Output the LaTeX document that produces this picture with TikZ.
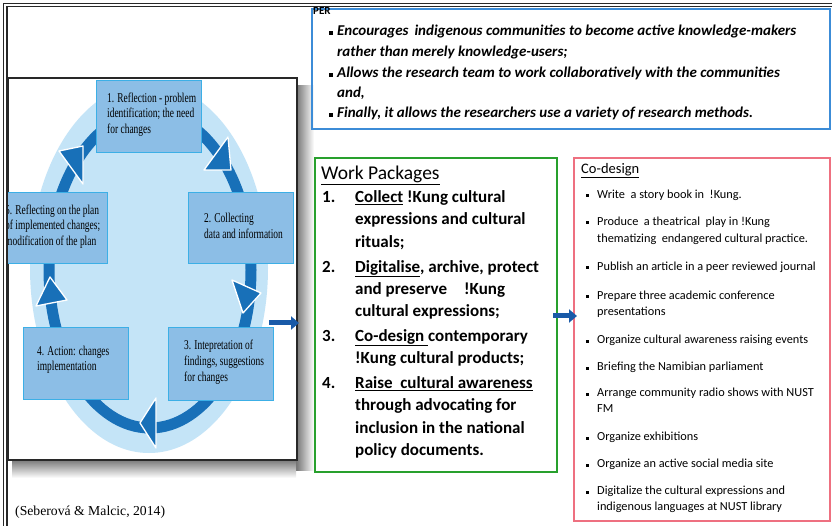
\documentclass[tikz,border=0pt]{standalone}
\usepackage{fontspec}
\setmainfont{Carlito}
\newfontfamily\cycfont[FakeStretch=0.7]{Liberation Serif}
\newfontfamily\reffont{Liberation Serif}
\usetikzlibrary{arrows.meta}
\definecolor{framec}{RGB}{40,40,40}
\definecolor{ellc}{RGB}{196,228,247}
\definecolor{ringc}{RGB}{24,112,184}
\definecolor{boxfill}{RGB}{140,190,230}
\definecolor{boxline}{RGB}{60,175,230}
\definecolor{topblue}{RGB}{60,140,215}
\definecolor{wpgreen}{RGB}{40,160,45}
\definecolor{cdred}{RGB}{238,112,128}
\definecolor{arrc}{RGB}{25,90,168}
\tikzset{
  cyctext/.style={anchor=mid west, inner sep=0pt, font=\cycfont\fontsize{13.5}{15}\selectfont},
  toptext/.style={anchor=mid west, inner sep=0pt, font=\bfseries\itshape\fontsize{15}{18}\selectfont},
  wptext/.style={anchor=mid west, inner sep=0pt, font=\bfseries\fontsize{17}{20}\selectfont},
  cdtext/.style={anchor=mid west, inner sep=0pt, font=\fontsize{12.3}{14}\selectfont},
  bul/.style={fill=black, inner sep=0pt, minimum size=3.2pt},
  cbox/.style={fill=boxfill, draw=boxline, line width=1.2pt},
  tri/.style={fill=ringc, draw=white, line width=1.3pt, line join=round},
  blockarrow/.style={draw=arrc, line width=5pt, -{Triangle[length=8pt,width=13pt]}}
}
\begin{document}
\begin{tikzpicture}[x=1pt,y=-1pt]
\useasboundingbox (0,0) rectangle (832,526);
\fill[white] (0,0) rectangle (832,526);

% shadow of the cycle picture
\shade[left color=black!55, right color=white] (296,86) rectangle (314,470);
\shade[top color=black!55, bottom color=white] (12,459) rectangle (296,478);

% cycle picture
\node[draw=framec, fill=white, line width=1.5pt, inner sep=0pt, minimum width=289pt, minimum height=381pt, anchor=north west] (pic) at (7,78) {};
\begin{scope}
\clip (7,78) rectangle (296,459);
\fill[ellc] (149,268) ellipse [x radius=119, y radius=185];
\draw[ringc, line width=11pt] (150,270) ellipse [x radius=101, y radius=158];
\draw[tri] (228,137) -- (204,170) -- (231,170) -- cycle;
\draw[tri] (232,280) -- (261,293) -- (243,313) -- cycle;
\draw[tri] (156,398) -- (140,423) -- (156,448) -- cycle;
\draw[tri] (50,277) -- (36,306) -- (67,300) -- cycle;
\draw[tri] (59,151) -- (83,146) -- (83,184) -- cycle;
\node[cbox, minimum width=105pt, minimum height=72pt, anchor=north west] (c1) at (96,80) {};
\node[cbox, minimum width=105pt, minimum height=71pt, anchor=north west] (c2) at (188,192) {};
\node[cbox, minimum width=105pt, minimum height=73pt, anchor=north west] (c3) at (168,327) {};
\node[cbox, minimum width=105pt, minimum height=72pt, anchor=north west] (c4) at (23,327) {};
\node[cbox, minimum width=101pt, minimum height=71pt, anchor=north west] (c5) at (6,192) {};
\node[cyctext] (c1a) at (107,100) {1. Reflection - problem};
\node[cyctext] (c1b) at (107,115) {identification; the need};
\node[cyctext] (c1c) at (107,131) {for changes};
\node[cyctext] (c2a) at (204,220) {2. Collecting};
\node[cyctext] (c2b) at (204,236) {data and information};
\node[cyctext] (c3a) at (184,347) {3. Intepretation of};
\node[cyctext] (c3b) at (184,363) {findings, suggestions};
\node[cyctext] (c3c) at (184,379) {for changes};
\node[cyctext] (c4a) at (37,353) {4. Action: changes};
\node[cyctext] (c4b) at (37,368) {implementation};
\node[cyctext] (c5a) at (5,212) {5. Reflecting on the plan};
\node[cyctext] (c5b) at (5,227) {of implemented changes;};
\node[cyctext] (c5c) at (5,243) {modification of the plan};
\end{scope}
\draw[framec, line width=1.5pt] (pic.north west) rectangle (pic.south east);

\node[anchor=mid west, inner sep=0pt, font=\reffont\fontsize{13.7}{16}\selectfont] (cite) at (15,513) {(Seberová \& Malcic, 2014)};

% top box
\node[draw=topblue, line width=1.8pt, inner sep=0pt, minimum width=518pt, minimum height=120pt, anchor=north west] (per) at (311,8) {};
\node[anchor=mid west, inner sep=0pt, font=\bfseries\fontsize{11}{13}\selectfont] (pert) at (313,12) {PER};
\node[bul] (pb1) at (331,33) {};
\node[bul] (pb2) at (331,75) {};
\node[bul] (pb3) at (331,115) {};
\node[toptext] (pt1) at (337,33) {Encourages\, indigenous communities to become active knowledge-makers};
\node[toptext] (pt2) at (337,54) {rather than merely knowledge-users;};
\node[toptext] (pt3) at (337,75) {Allows the research team to work collaboratively with the communities};
\node[toptext] (pt4) at (337,95) {and,};
\node[toptext] (pt5) at (337,115) {Finally, it allows the researchers use a variety of research methods.};

% outer frame (double lines)
\draw[framec, line width=1.4pt] (3.5,526) -- (3.5,3.5) -- (832,3.5);
\draw[framec, line width=1.4pt] (6.8,526) -- (6.8,6.8) -- (832,6.8);

% work packages
\node[draw=wpgreen, line width=1.8pt, inner sep=0pt, minimum width=242pt, minimum height=314pt, anchor=north west] (wp) at (314,157) {};
\node[anchor=mid west, inner sep=0pt, font=\fontsize{19.5}{22}\selectfont] (wph) at (321,177) {\underline{Work Packages}};
\node[wptext] (wn1) at (322,200) {1.};
\node[wptext] (wn2) at (322,270) {2.};
\node[wptext] (wn3) at (322,339) {3.};
\node[wptext] (wn4) at (322,386) {4.};
\node[wptext] (w1a) at (355,200) {\underline{Collect} !Kung cultural};
\node[wptext] (w1b) at (355,222) {expressions and cultural};
\node[wptext] (w1c) at (355,245) {rituals;};
\node[wptext] (w2a) at (355,270) {\underline{Digitalise}, archive, protect};
\node[wptext] (w2b) at (355,292) {and preserve\quad !Kung};
\node[wptext] (w2c) at (355,314) {cultural expressions;};
\node[wptext] (w3a) at (355,339) {\underline{Co-design }contemporary};
\node[wptext] (w3b) at (355,361) {!Kung cultural products;};
\node[wptext] (w4a) at (355,386) {\underline{Raise\ \ cultural awareness}};
\node[wptext] (w4b) at (355,408) {through advocating for};
\node[wptext] (w4c) at (355,431) {inclusion in the national};
\node[wptext] (w4d) at (355,453) {policy documents.};

% co-design
\node[draw=cdred, line width=1.8pt, inner sep=0pt, minimum width=256pt, minimum height=363pt, anchor=north west] (cd) at (573,157) {};
\node[anchor=mid west, inner sep=0pt, font=\fontsize{14.5}{17}\selectfont] (cdh) at (581,171) {\underline{Co-design}};
\foreach \n/\y in {1/196,2/223,3/268,4/297,5/341,6/368,7/394,8/438,9/465,10/492}
  \node[bul, minimum size=3pt] (cb\n) at (587,\y) {};
\node[cdtext] (d1) at (597,196) {Write\ \ a story book in\ \ !Kung.};
\node[cdtext] (d2a) at (597,223) {Produce\ \ a theatrical\ \ play in !Kung};
\node[cdtext] (d2b) at (597,240) {thematizing\ \ endangered cultural practice.};
\node[cdtext] (d3) at (597,268) {Publish an article in a peer reviewed journal};
\node[cdtext] (d4a) at (597,297) {Prepare three academic conference};
\node[cdtext] (d4b) at (597,313) {presentations};
\node[cdtext] (d5) at (597,341) {Organize cultural awareness raising events};
\node[cdtext] (d6) at (597,368) {Briefing the Namibian parliament};
\node[cdtext] (d7a) at (597,394) {Arrange community radio shows with NUST};
\node[cdtext] (d7b) at (597,410) {FM};
\node[cdtext] (d8) at (597,438) {Organize exhibitions};
\node[cdtext] (d9) at (597,465) {Organize an active social media site};
\node[cdtext] (d10a) at (597,492) {Digitalize the cultural expressions and};
\node[cdtext] (d10b) at (597,508) {indigenous languages at NUST library};

% arrows
\coordinate (a1s) at (269,323);
\coordinate (a1e) at (299,323);
\draw[blockarrow] (a1s) -- (a1e);
\coordinate (a2s) at (553,316);
\coordinate (a2e) at (577,316);
\draw[blockarrow] (a2s) -- (a2e);
\end{tikzpicture}
\end{document}
